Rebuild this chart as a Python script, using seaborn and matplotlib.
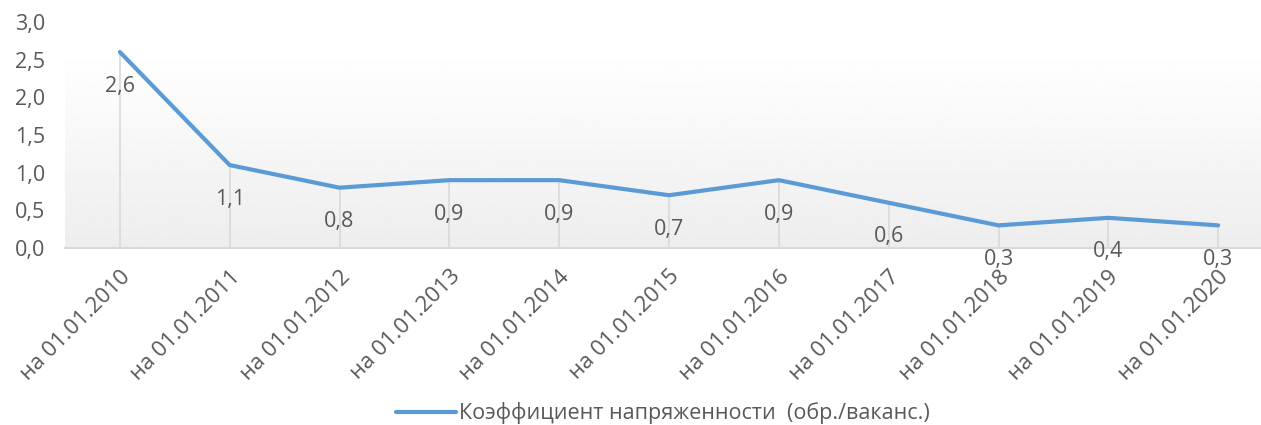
import numpy as np
import pandas as pd
import matplotlib
matplotlib.use("Agg")
import matplotlib.pyplot as plt
import seaborn as sns

DATES = ["на 01.01.2010", "на 01.01.2011", "на 01.01.2012", "на 01.01.2013",
         "на 01.01.2014", "на 01.01.2015", "на 01.01.2016", "на 01.01.2017",
         "на 01.01.2018", "на 01.01.2019", "на 01.01.2020"]
VALUES = [2.6, 1.1, 0.8, 0.9, 0.9, 0.7, 0.9, 0.6, 0.3, 0.4, 0.3]
SERIES = "Коэффициент напряженности  (обр./ваканс.)"
Y_TICKS = [0.0, 0.5, 1.0, 1.5, 2.0, 2.5, 3.0]

LINE_BLUE = "#5B9BD5"
TEXT_GRAY = "#595959"
GRID_GRAY = "#D9D9D9"

sns.set_style("white")
plt.rcParams["font.family"] = ["Open Sans", "DejaVu Sans"]

df = pd.DataFrame({"Date": DATES, "Value": VALUES, "x": range(len(DATES))})

fig = plt.figure(figsize=(12.61, 4.25), dpi=100)
ax = fig.add_axes([0.0515, 0.4165, 0.9485, 0.532])

# soft gradient in the plot area
grad = np.linspace(0.93, 1.0, 256).reshape(-1, 1)
ax.imshow(grad, cmap="gray", vmin=0, vmax=1, aspect="auto",
          extent=[-0.5, 10.39, 0, 2.62], origin="lower", zorder=0)

# drop lines
ax.vlines(df["x"], 0, df["Value"], color=GRID_GRAY, linewidth=1.2, zorder=1)

sns.lineplot(data=df, x="x", y="Value", color=LINE_BLUE, linewidth=3,
             label=SERIES, ax=ax, zorder=3)

for xi, v in zip(df["x"], df["Value"]):
    ax.annotate(f"{v:.1f}".replace(".", ","), (xi, v), xytext=(0, -34),
                textcoords="offset pixels",
                ha="center", va="center", fontsize=15.5, color=TEXT_GRAY,
                annotation_clip=False, zorder=4)

ax.set_xlim(-0.5, 10.39)
ax.set_ylim(0, 3.0)
ax.set_yticks(Y_TICKS)
ax.set_yticklabels([f"{t:.1f}".replace(".", ",") for t in Y_TICKS],
                   fontsize=15.5, color=TEXT_GRAY)
ax.set_xticks(df["x"])
ax.set_xticklabels(DATES, rotation=45, ha="right", rotation_mode="anchor",
                   fontsize=16, color=TEXT_GRAY)
ax.tick_params(axis="both", length=0)
ax.tick_params(axis="x", pad=13)
ax.tick_params(axis="y", pad=14)
ax.set_xlabel("")
ax.set_ylabel("")

for s in ["top", "right", "left"]:
    ax.spines[s].set_visible(False)
ax.spines["bottom"].set_color(GRID_GRAY)
ax.spines["bottom"].set_linewidth(1.5)

leg = ax.legend(loc="center", bbox_to_anchor=(0.5, -0.73), frameon=False,
                fontsize=15.5, handlelength=2.8, handletextpad=0.15)
for t in leg.get_texts():
    t.set_color(TEXT_GRAY)

fig.savefig("out.png", dpi=100)
